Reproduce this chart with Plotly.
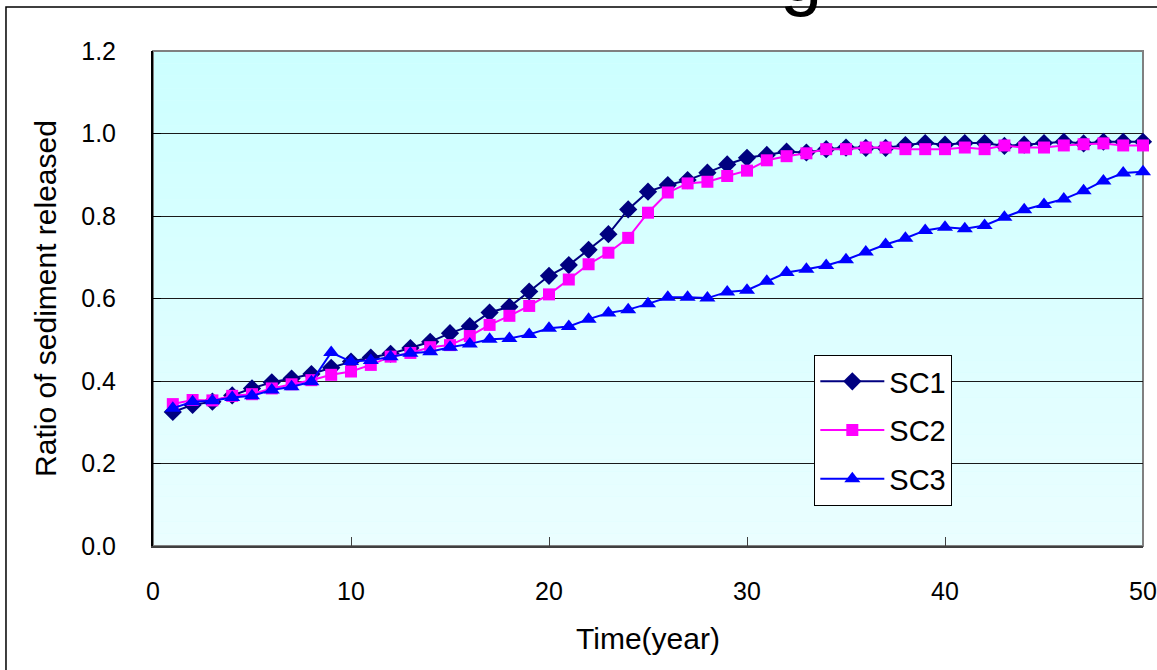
import plotly.graph_objects as go

years = list(range(1, 51))

sc1 = [0.325, 0.342, 0.350, 0.365, 0.382, 0.397, 0.406, 0.417, 0.432, 0.447,
       0.457, 0.466, 0.480, 0.495, 0.516, 0.533, 0.566, 0.580, 0.617, 0.655,
       0.681, 0.718, 0.756, 0.816, 0.859, 0.875, 0.887, 0.905, 0.925, 0.941,
       0.948, 0.956, 0.954, 0.962, 0.966, 0.965, 0.965, 0.972, 0.977, 0.973,
       0.977, 0.977, 0.970, 0.973, 0.977, 0.980, 0.976, 0.980, 0.980, 0.980]

sc2 = [0.344, 0.354, 0.353, 0.364, 0.368, 0.382, 0.392, 0.402, 0.415, 0.423,
       0.439, 0.459, 0.468, 0.482, 0.487, 0.509, 0.536, 0.558, 0.582, 0.610,
       0.646, 0.683, 0.711, 0.747, 0.808, 0.857, 0.879, 0.883, 0.897, 0.910,
       0.935, 0.945, 0.952, 0.962, 0.962, 0.966, 0.966, 0.962, 0.962, 0.962,
       0.966, 0.962, 0.971, 0.966, 0.966, 0.971, 0.974, 0.976, 0.971, 0.971]

sc3 = [0.334, 0.350, 0.352, 0.360, 0.364, 0.378, 0.386, 0.398, 0.469, 0.447,
       0.450, 0.459, 0.467, 0.471, 0.482, 0.490, 0.501, 0.503, 0.513, 0.528,
       0.532, 0.550, 0.565, 0.573, 0.587, 0.603, 0.603, 0.601, 0.616, 0.620,
       0.642, 0.663, 0.671, 0.680, 0.694, 0.713, 0.731, 0.746, 0.765, 0.773,
       0.769, 0.777, 0.797, 0.815, 0.828, 0.841, 0.861, 0.885, 0.904, 0.907]

series_names = ["SC1", "SC2", "SC3"]
series_colors = ["#000080", "#FF00FF", "#0000FF"]
series_symbols = ["diamond", "square", "triangle-up"]
series_sizes = [14, 12, 14]

x_ticks = [0, 10, 20, 30, 40, 50]
y_ticks = [0.0, 0.2, 0.4, 0.6, 0.8, 1.0, 1.2]

FONT = "Liberation Sans, Arial, sans-serif"

fig = go.Figure()
for name, vals, col, sym, sz in zip(series_names, [sc1, sc2, sc3], series_colors,
                                    series_symbols, series_sizes):
    fig.add_trace(go.Scatter(
        x=years, y=vals, name=name, mode="lines+markers", legendgroup=name,
        line=dict(color=col, width=2),
        marker=dict(symbol=sym, size=sz, color=col),
        cliponaxis=False,
    ))

# gradient background bands for plot area
shapes = []
n = 40
top = (204, 255, 255)
bot = (234, 254, 255)
for i in range(n):
    f = i / (n - 1)
    c = tuple(round(top[k] + (bot[k] - top[k]) * f) for k in range(3))
    shapes.append(dict(type="rect", xref="paper", yref="paper",
                       x0=0, x1=1, y1=1 - i / n, y0=1 - (i + 1) / n,
                       line=dict(width=0), fillcolor="rgb(%d,%d,%d)" % c,
                       layer="below"))
# plot area border (gray)
shapes.append(dict(type="rect", xref="paper", yref="paper", x0=0, x1=1, y0=0, y1=1,
                   line=dict(color="#808080", width=2), layer="between"))
# outer chart border
shapes.append(dict(type="path", xref="paper", yref="paper",
                   path="M -0.1485,-0.3 L -0.1485,1.0889 L 1.2,1.0889",
                   line=dict(color="#000000", width=1.5), layer="above"))

fig.update_layout(
    width=1157, height=670,
    margin=dict(l=153, r=14, t=51, b=124, autoexpand=False),
    paper_bgcolor="white",
    plot_bgcolor="#d8feff",
    font=dict(family=FONT, color="black"),
    shapes=shapes,
    showlegend=True,
    legend=dict(x=0.668, y=0.386, xanchor="left", yanchor="top",
                bgcolor="white", bordercolor="#000000", borderwidth=1,
                font=dict(size=29, family=FONT), tracegroupgap=8,
                itemwidth=64, entrywidth=150),
    annotations=[dict(text="g", x=0.655, y=1.064, xref="paper", yref="paper",
                      xanchor="center", yanchor="bottom", showarrow=False,
                      font=dict(size=76, family=FONT, color="black"))],
)

fig.update_xaxes(range=[0, 50], tickvals=x_ticks, ticktext=[str(v) for v in x_ticks],
                 ticks="inside", ticklen=9, tickwidth=1, tickcolor="#404040",
                 showgrid=False, zeroline=False, automargin=False,
                 showline=True, linecolor="#404040", linewidth=2,
                 tickfont=dict(size=25), ticklabelstandoff=22,
                 title=dict(text="Time(year)", font=dict(size=30), standoff=24))
fig.update_yaxes(range=[0, 1.2], tickvals=y_ticks, ticktext=["%.1f" % v for v in y_ticks],
                 ticks="inside", ticklen=8, tickwidth=1, tickcolor="#000000",
                 showgrid=True, gridcolor="#1a1a1a", gridwidth=1, zeroline=False,
                 showline=True, linecolor="#000000", linewidth=2, automargin=False,
                 tickfont=dict(size=25), ticklabelstandoff=30,
                 title=dict(text="Ratio of sediment released", font=dict(size=30), standoff=16))

fig.write_html("out.html")
